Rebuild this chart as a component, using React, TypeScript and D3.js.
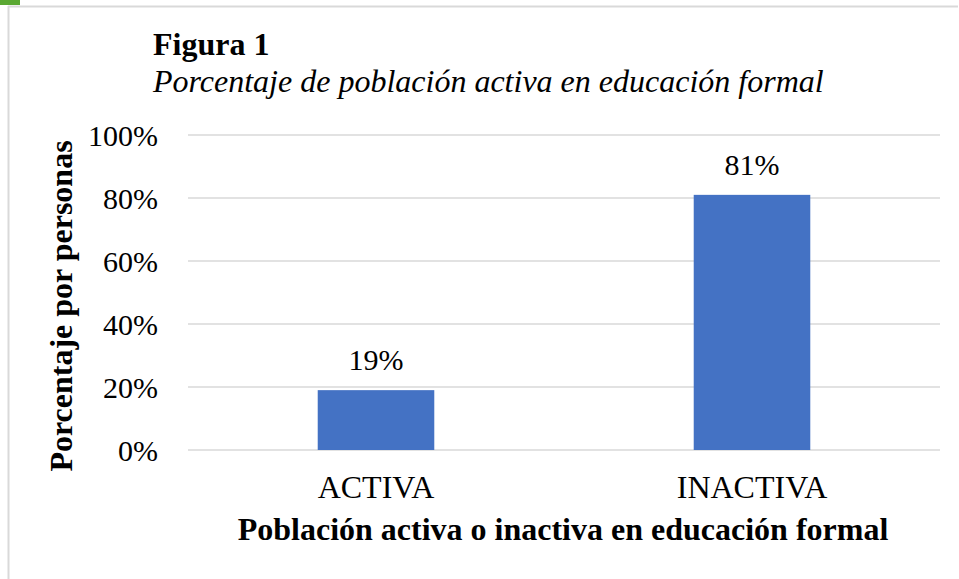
import React from "react";
import * as d3 from "d3";

const categories = ["ACTIVA", "INACTIVA"];
const values = [19, 81];
const yTicks = [0, 20, 40, 60, 80, 100];
const titleText = "Figura 1";
const subtitleText = "Porcentaje de población activa en educación formal";
const yAxisTitle = "Porcentaje por personas";
const xAxisTitle = "Población activa o inactiva en educación formal";

const W = 959;
const H = 579;
const left = 188;
const right = 940;
const top = 135;
const bottom = 450;
const font = "'Liberation Serif', 'Times New Roman', serif";

export default function App() {
  const x = d3.scaleBand<string>().domain(categories).range([left, right]).paddingInner(0.69).paddingOuter(0.345);
  const y = d3.scaleLinear().domain([0, 100]).range([bottom, top]);
  return (
    <svg width={W} height={H} style={{ position: "absolute", left: 0, top: 0 }}>
      <rect x={0} y={0} width={W} height={H} fill="#fff" />
      <rect x={0} y={0} width={20} height={5} fill="#5aa832" />
      <line x1={8} x2={958} y1={6.5} y2={6.5} stroke="#d9d9d9" strokeWidth={2} />
      <line x1={8.5} x2={8.5} y1={6} y2={579} stroke="#d9d9d9" strokeWidth={2} />
      <text x={153} y={55} fontFamily={font} fontSize={32} fontWeight="bold">{titleText}</text>
      <text x={153} y={92} fontFamily={font} fontSize={32} fontStyle="italic">{subtitleText}</text>
      {yTicks.map((t) => (
        <g key={t}>
          <line x1={left} x2={right} y1={y(t)} y2={y(t)} stroke="#d9d9d9" strokeWidth={1.5} />
          <text x={158} y={y(t)} dy="0.35em" textAnchor="end" fontFamily={font} fontSize={30}>{t}%</text>
        </g>
      ))}
      {categories.map((c, i) => (
        <g key={c}>
          <rect x={x(c)} y={y(values[i])} width={x.bandwidth()} height={y(0) - y(values[i])} fill="#4472c4" />
          <text x={(x(c) as number) + x.bandwidth() / 2} y={y(values[i]) - 20} textAnchor="middle" fontFamily={font} fontSize={30}>{values[i]}%</text>
          <text x={(x(c) as number) + x.bandwidth() / 2} y={498} textAnchor="middle" fontFamily={font} fontSize={32}>{c}</text>
        </g>
      ))}
      <text transform={`translate(72, 306) rotate(-90)`} textAnchor="middle" fontFamily={font} fontSize={32} fontWeight="bold">{yAxisTitle}</text>
      <text x={563} y={540} textAnchor="middle" fontFamily={font} fontSize={32} fontWeight="bold">{xAxisTitle}</text>
    </svg>
  );
}
